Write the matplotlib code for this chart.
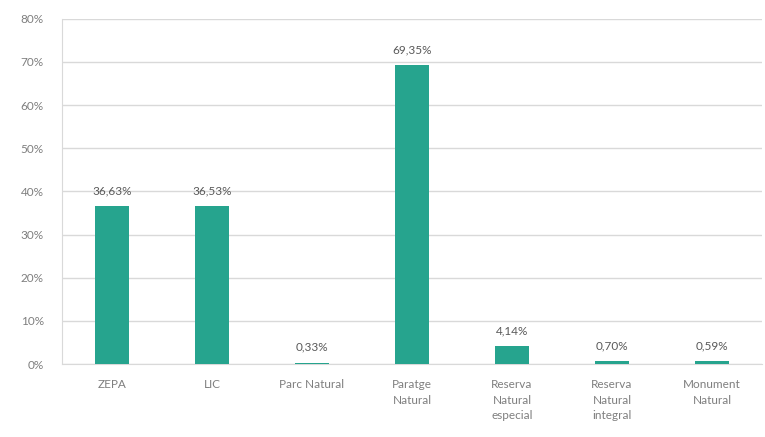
import matplotlib
matplotlib.use("Agg")
import matplotlib.pyplot as plt
from matplotlib.ticker import FuncFormatter

categories = ["ZEPA", "LIC", "Parc Natural", "Paratge\nNatural",
              "Reserva\nNatural\nespecial", "Reserva\nNatural\nintegral",
              "Monument\nNatural"]
values = [36.63, 36.53, 0.33, 69.35, 4.14, 0.70, 0.59]

BAR_COLOR = "#26a48e"
TEXT_COLOR = "#7f7f7f"
GRID_COLOR = "#d9d9d9"

plt.rcParams["font.family"] = ["Lato", "DejaVu Sans"]

fig = plt.figure(figsize=(7.65, 4.37), dpi=100)
ax = fig.add_axes([0.081, 0.167, 0.915, 0.79])

x = list(range(len(categories)))
ax.bar(x, values, width=0.34, color=BAR_COLOR, zorder=3)

# data labels use a decimal comma like the source
for xi, v in zip(x, values):
    ax.annotate(f"{v:.2f}".replace(".", ",") + "%", (xi, v),
                xytext=(0, 7), textcoords="offset points",
                ha="center", va="bottom", fontsize=8.5, color="#595959")

ax.set_xlim(-0.5, len(categories) - 0.5)
ax.set_ylim(0, 80)
ax.set_yticks(range(0, 81, 10))
ax.yaxis.set_major_formatter(FuncFormatter(lambda v, _: f"{v:.0f}%"))
ax.set_xticks(x)
ax.set_xticklabels(categories, linespacing=1.5)
ax.tick_params(axis="both", length=0, labelsize=8.5, colors=TEXT_COLOR)
ax.tick_params(axis="x", pad=11)
ax.tick_params(axis="y", pad=13)

ax.grid(axis="y", color=GRID_COLOR, linewidth=1, zorder=0)
for side in ["top", "right"]:
    ax.spines[side].set_visible(False)
ax.spines["bottom"].set_color(GRID_COLOR)
ax.spines["left"].set_color(GRID_COLOR)

fig.savefig("out.png", dpi=100)
